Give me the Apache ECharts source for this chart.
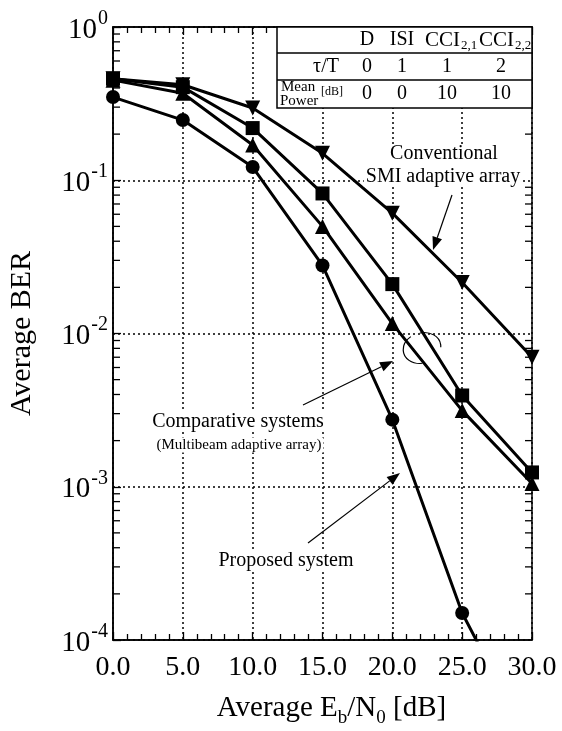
<!DOCTYPE html>
<html>
<head>
<meta charset="utf-8">
<script src="https://cdn.jsdelivr.net/npm/echarts@6/dist/echarts.min.js"></script>
<style>
  html, body { margin: 0; padding: 0; background: #fff; }
  #chart { width: 562px; height: 731px; }
</style>
</head>
<body>
<div id="chart"></div>
<script>
// Eb/N0 points in dB
const ebn0 = [0, 5, 10, 15, 20, 25, 30];

// Average BER per scheme
const proposed     = [0.349, 0.247, 0.122, 0.0278, 0.00274, 0.000150, 0.00002];
const compSquare   = [0.46, 0.405, 0.219, 0.082, 0.021, 0.00394, 0.00124];
const compTriUp    = [0.45, 0.37, 0.17, 0.05, 0.0116, 0.00314, 0.00105];
const conventional = [0.46, 0.42, 0.296, 0.15, 0.061, 0.0215, 0.007];

// Signal table shown in the upper right corner
const tableHeads = ['D', 'ISI', 'CCI', 'CCI'];
const tableSubs  = ['', '', '2,1', '2,2'];
const delayRow   = ['0', '1', '1', '2'];
const powerRow   = ['0', '0', '10', '10'];

// Minor tick values on the log axis (2..9 per decade)
const logMinor = [];
for (let e = -4; e < 0; e++) {
  for (let m = 2; m <= 9; m++) logMinor.push(m * Math.pow(10, e));
}

const SERIF = '"Liberation Serif", "DejaVu Serif", serif';

const chart = echarts.init(document.getElementById('chart'), null, { renderer: 'canvas' });

function pairs(ys) { return ebn0.map((x, i) => [x, ys[i]]); }

function curve(name, ys, symbol, size, rotate) {
  return {
    name: name,
    type: 'line',
    data: pairs(ys),
    symbol: symbol,
    symbolSize: size,
    symbolRotate: rotate || 0,
    showAllSymbol: true,
    clip: true,
    lineStyle: { color: '#000', width: 3 },
    itemStyle: { color: '#000' },
    z: 5
  };
}

function txt(text, x, y, size, align, extra) {
  return Object.assign({
    type: 'text', x: x, y: y, z: 22,
    style: { text: text, fontFamily: SERIF, fontSize: size, fill: '#000', align: align || 'center', verticalAlign: 'middle' }
  }, extra || {});
}

// table geometry
const tb = { left: 277, right: 532, top: 27, rows: [27, 53, 80, 108] };
const colX = [367, 402, 447, 501];

const tableGraphics = [];
tableGraphics.push({
  type: 'rect', shape: { x: tb.left, y: tb.top, width: tb.right - tb.left, height: tb.rows[3] - tb.top },
  style: { fill: '#fff', stroke: '#000', lineWidth: 1.5 }, z: 20
});
[tb.rows[1], tb.rows[2]].forEach(y => tableGraphics.push({
  type: 'line', shape: { x1: tb.left, y1: y, x2: tb.right, y2: y },
  style: { stroke: '#000', lineWidth: 1.3 }, z: 21
}));
tableHeads.forEach((h, i) => {
  if (tableSubs[i]) {
    // main letters right-aligned, subscript hanging off their right edge
    tableGraphics.push(txt(h, colX[i] + 13, 40, 21, 'right'));
    tableGraphics.push(txt(tableSubs[i], colX[i] + 14, 46, 13, 'left'));
  } else {
    tableGraphics.push(txt(h, colX[i], 40, 20));
  }
});
tableGraphics.push(txt('τ/T', 326, 67, 20));
delayRow.forEach((v, i) => tableGraphics.push(txt(v, colX[i], 67, 20)));
tableGraphics.push(txt('Mean', 281, 87, 15, 'left'));
tableGraphics.push(txt('Power', 280, 101, 15, 'left'));
tableGraphics.push(txt('[dB]', 321, 92, 12, 'left'));
powerRow.forEach((v, i) => tableGraphics.push(txt(v, colX[i], 94, 20)));

// arrows with filled heads
function arrow(x1, y1, x2, y2) {
  const ang = Math.atan2(y2 - y1, x2 - x1);
  const L = 13, W = 5;
  const bx = x2 - L * Math.cos(ang), by = y2 - L * Math.sin(ang);
  const px = -Math.sin(ang) * W, py = Math.cos(ang) * W;
  return [
    { type: 'line', shape: { x1: x1, y1: y1, x2: bx, y2: by }, style: { stroke: '#000', lineWidth: 1.2 }, z: 15 },
    { type: 'polygon', shape: { points: [[x2, y2], [bx + px, by + py], [bx - px, by - py]] }, style: { fill: '#000' }, z: 15 }
  ];
}

function label(text, x, y, size) {
  return {
    type: 'text', x: x, y: y, z: 15,
    style: {
      text: text, fontFamily: SERIF, fontSize: size, fill: '#000', align: 'center', verticalAlign: 'middle',
      backgroundColor: '#fff', padding: [0, 2]
    }
  };
}

// open ellipse bracketing the two comparative curves
function ellArc(a0, a1) {
  return {
    type: 'arc', x: 422, y: 348, scaleY: 0.8, rotation: 0.25, z: 15,
    shape: { cx: 0, cy: 0, r: 19, startAngle: a0 * Math.PI / 180, endAngle: a1 * Math.PI / 180, clockwise: true },
    style: { stroke: '#000', fill: null, lineWidth: 1.1, strokeNoScale: true }
  };
}

const annotations = [
  label('Conventional', 444, 154, 20),
  label('SMI adaptive array', 443, 177, 20),
  ...arrow(452, 195, 433, 250),
  label('Comparative systems', 238, 422, 20),
  label('(Multibeam adaptive array)', 239, 445, 15),
  ...arrow(303, 405, 393, 361),
  ellArc(100, 245),
  ellArc(275, 375),
  label('Proposed system', 286, 561, 20),
  ...arrow(308, 543, 400, 473)
];

const option = {
  backgroundColor: '#fff',
  animation: false,
  grid: {
    left: 113, right: 30, top: 27, bottom: 91,
    outerBoundsMode: 'none', containLabel: false,
    show: true, borderColor: '#000', borderWidth: 1.5, backgroundColor: 'transparent'
  },
  xAxis: [{
    type: 'value', min: 0, max: 30, interval: 5,
    name: '{t|Average E}{s|b}{t|/N}{s|0}{t| [dB]}',
    nameLocation: 'middle', nameGap: 54,
    nameTextStyle: {
      padding: [0, 0, 0, 18],
      rich: {
        t: { fontFamily: SERIF, fontSize: 29, color: '#000', verticalAlign: 'bottom' },
        s: { fontFamily: SERIF, fontSize: 19, color: '#000', verticalAlign: 'bottom', padding: [0, 0, -5, 0] }
      }
    },
    axisLine: { show: true, lineStyle: { color: '#000', width: 1.5 } },
    axisTick: { show: true, inside: true, length: 8, lineStyle: { color: '#000', width: 1.3 } },
    minorTick: { show: true, splitNumber: 5, length: 6, lineStyle: { color: '#000', width: 1.3 } },
    axisLabel: { formatter: v => v.toFixed(1), fontFamily: SERIF, fontSize: 28, color: '#000', margin: 14 },
    splitLine: { show: true, lineStyle: { color: '#000', type: [2, 3], width: 1.5 } }
  }, {
    type: 'value', min: 0, max: 30, interval: 5, position: 'top',
    axisLine: { show: true, lineStyle: { color: '#000', width: 1.5 } },
    axisTick: { show: true, inside: true, length: 8, lineStyle: { color: '#000', width: 1.3 } },
    minorTick: { show: true, splitNumber: 5, length: 6, lineStyle: { color: '#000', width: 1.3 } },
    axisLabel: { show: false },
    splitLine: { show: false }
  }],
  yAxis: {
    type: 'log', logBase: 10, min: 1e-4, max: 1,
    name: 'Average BER', nameLocation: 'middle', nameGap: 76,
    nameTextStyle: { fontFamily: SERIF, fontSize: 30, color: '#000' },
    axisLine: { show: true, lineStyle: { color: '#000', width: 1.5 } },
    axisTick: { show: true, inside: true, length: 8, lineStyle: { color: '#000', width: 1.3 } },
    axisLabel: {
      margin: 5,
      formatter: v => '{b|10}{e|' + Math.round(Math.log10(v)) + '}',
      rich: {
        b: { fontFamily: SERIF, fontSize: 29, color: '#000', verticalAlign: 'bottom', padding: [0, 0, -6, 0] },
        e: { fontFamily: SERIF, fontSize: 20, color: '#000', verticalAlign: 'top', padding: [-7, 0, 0, 1] }
      }
    },
    splitLine: { show: true, lineStyle: { color: '#000', type: [2, 3], width: 1.5 } }
  },
  series: [
    // minor ticks of the log axis, drawn on both vertical borders
    {
      type: 'custom', silent: true, z: 3,
      data: logMinor.map(v => [0, v]),
      renderItem: function (params, api) {
        const v = api.value(1);
        const l = api.coord([0, v]);
        const r = api.coord([30, v]);
        const st = { stroke: '#000', lineWidth: 1.3 };
        return {
          type: 'group', children: [
            { type: 'line', shape: { x1: l[0], y1: l[1], x2: l[0] + 7, y2: l[1] }, style: st },
            { type: 'line', shape: { x1: r[0], y1: r[1], x2: r[0] - 7, y2: r[1] }, style: st }
          ]
        };
      }
    },
    curve('Conventional SMI adaptive array', conventional, 'triangle', 15, 180),
    curve('Comparative system (square)', compSquare, 'rect', 14),
    curve('Comparative system (triangle)', compTriUp, 'triangle', 15),
    curve('Proposed system', proposed, 'circle', 14)
  ],
  graphic: tableGraphics.concat(annotations)
};

chart.setOption(option);
</script>
</body>
</html>
